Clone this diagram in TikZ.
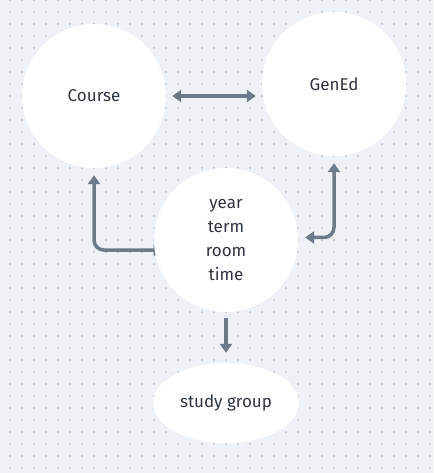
\documentclass[tikz,border=0pt]{standalone}
\usepackage{fontspec}
\setmainfont{Fira Sans}
\usetikzlibrary{arrows.meta}
\definecolor{bgc}{HTML}{EEF2F6}
\definecolor{dotc}{HTML}{CDD2DA}
\definecolor{arrc}{HTML}{6C7A89}
\definecolor{txtc}{HTML}{2E3440}
\pgfdeclarelayer{background}
\pgfsetlayers{background,main}
\tikzset{
  bubble/.style={circle, fill=white, minimum size=144pt, inner sep=0pt, text=txtc, font=\fontsize{17}{24}\selectfont, align=center},
  oval/.style={ellipse, fill=white, minimum width=146pt, minimum height=80pt, inner sep=0pt, text=txtc, font=\fontsize{17}{24}\selectfont},
  conn/.style={draw=arrc, line width=3.5pt, rounded corners=10pt, arrows={-Triangle[width=12pt,length=9pt]}},
  conn2/.style={conn, arrows={Triangle[width=12pt,length=9pt]-Triangle[width=12pt,length=9pt]}}
}
\usetikzlibrary{shapes.geometric}
\begin{document}
\begin{tikzpicture}[x=1pt,y=-1pt]
\node[bubble] (C) at (94,96) {Course};
\node[bubble] (G) at (334,84) {GenEd};
\node[bubble] (M) at (226,240) {year\\term\\room\\time};
\node[oval] (S) at (226,403) {study group};
\begin{pgfonlayer}{background}
\fill[bgc] (0,0) rectangle (433,473);
\useasboundingbox (0,0) rectangle (433,473);
\foreach \i in {0,...,35}{
  \foreach \j in {0,...,39}{
    \fill[dotc] ({10+12*\i-0.9},{12*\j-0.9}) rectangle ++(1.8,1.8);
  }
}
\draw[conn2] ([xshift=6pt]C.east) -- ([xshift=-6pt]G.west |- C.east);
\draw[conn2] ([yshift=-7pt]C.south) |- ([xshift=8pt]M.188);
\draw[conn2] ([yshift=-7pt]G.south) |- ([xshift=7pt]M.2);
\draw[conn] ([yshift=-6pt]M.south) -- ([yshift=10pt]S.north);
\end{pgfonlayer}
\end{tikzpicture}
\end{document}
